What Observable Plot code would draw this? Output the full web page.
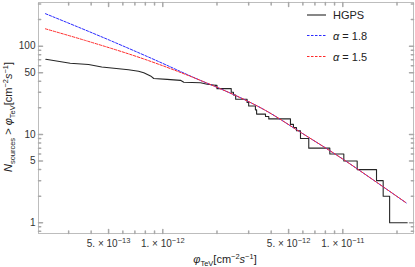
<!DOCTYPE html>
<html><head><meta charset="utf-8">
<script src="https://cdn.jsdelivr.net/npm/d3@7"></script>
<script src="https://cdn.jsdelivr.net/npm/@observablehq/plot@0.6"></script>
<style>
html,body{margin:0;padding:0;background:#fff}
svg{display:block}
</style>
</head><body><div id="chart"></div>
<script>
// ---- data ----
// HGPS cumulative counts, slowly varying low-flux part (drawn as a line)
const hgpsLowFlux = [2.24e-13, 3.06e-13, 3.87e-13, 4.58e-13, 6.45e-13, 7.33e-13, 7.84e-13, 8.55e-13, 8.91e-13, 1.057e-12, 1.254e-12, 1.308e-12, 1.62e-12, 1.765e-12, 1.96e-12];
const hgpsLowN    = [71, 64, 62, 58, 54, 52, 50, 46, 43, 42, 41, 39, 38.5, 37, 36];
// HGPS high-flux part (staircase)
const hgpsStepFlux = [1.96e-12, 2.0e-12, 2.40e-12, 2.47e-12, 2.54e-12, 2.94e-12, 3.00e-12, 3.27e-12, 3.32e-12, 3.72e-12, 3.88e-12, 5.12e-12, 5.32e-12, 5.53e-12, 5.82e-12, 6.47e-12, 8.47e-12, 1.013e-11, 1.202e-11, 1.539e-11, 1.676e-11, 1.82e-11, 2.28e-11];
const hgpsStepN    = [36, 33, 30, 28, 25, 23, 21, 19, 17, 16, 15, 13, 12, 11, 9, 7, 6, 5, 4, 3, 2, 1, 1];
// model curves
const a18Flux = [2.23e-13, 5.10e-13, 9.11e-13, 1.62e-12, 2.092e-12, 3.72e-12, 5.82e-12, 1.013e-11, 1.539e-11, 2.25e-11];
const a18N    = [233, 116, 69.4, 40.9, 32.9, 18.7, 10.6, 5.17, 2.88, 1.68];
const a15Flux = [2.23e-13, 3.71e-13, 8.19e-13, 1.727e-12, 2.092e-12, 3.72e-12, 5.82e-12, 1.013e-11, 1.539e-11, 2.25e-11];
const a15N    = [157, 116, 69.4, 38.8, 32.9, 18.7, 10.6, 5.17, 2.88, 1.68];

// ticks
const xLabelTicks = [5e-13, 1e-12, 5e-12, 1e-11];
const xLabelText  = ["5. × 10^−13", "1. × 10^−12", "5. × 10^−12", "1. × 10^−11"];
const xMinorTicks = [3e-13, 4e-13, 6e-13, 7e-13, 8e-13, 9e-13, 2e-12, 3e-12, 4e-12, 6e-12, 7e-12, 8e-12, 9e-12, 2e-11];
const yLabelTicks = [1, 5, 10, 50, 100];
const yLabelText  = ["1", "5", "10", "50", "100"];
const yMinorTicks = [0.8, 0.9, 2, 3, 4, 6, 7, 8, 9, 20, 30, 40, 60, 70, 80, 90, 200, 300];
const legendLabels = ["HGPS", "α = 1.8", "α = 1.5"];
const seriesColors = ["#262626", "#2b2bff", "#ff2b2b"];

// ---- build ----
const toRows = (xs, ys) => xs.map((x, i) => ({x, y: ys[i]}));
const tickShape = {draw(ctx, l) { ctx.moveTo(0, 0); ctx.lineTo(0, -l); }};
const tickMarks = (ticks, len) => [
  Plot.vector(ticks, {x: d => d, frameAnchor: "bottom", rotate: 0, length: len, anchor: "start", shape: tickShape, stroke: "#a8a8a8"}),
  Plot.vector(ticks, {x: d => d, frameAnchor: "top", rotate: 180, length: len, anchor: "start", shape: tickShape, stroke: "#a8a8a8"})
];
const tickMarksY = (ticks, len) => [
  Plot.vector(ticks, {y: d => d, frameAnchor: "left", rotate: 90, length: len, anchor: "start", shape: tickShape, stroke: "#a8a8a8"}),
  Plot.vector(ticks, {y: d => d, frameAnchor: "right", rotate: -90, length: len, anchor: "start", shape: tickShape, stroke: "#a8a8a8"})
];

const svg = Plot.plot({
  width: 415, height: 267,
  marginLeft: 38, marginRight: 2, marginTop: 2, marginBottom: 34,
  style: {fontFamily: "'Liberation Sans', Arial, sans-serif", fontSize: "10px", background: "#fff", color: "#333"},
  x: {type: "log", domain: [2.04e-13, 2.47e-11], axis: null},
  y: {type: "log", domain: [0.756, 312], axis: null},
  marks: [
    Plot.frame({stroke: "#bdbdbd"}),
    ...tickMarks(xLabelTicks, 4),
    ...tickMarks(xMinorTicks, 2.5),
    ...tickMarksY(yLabelTicks, 4),
    ...tickMarksY(yMinorTicks, 2.2),
    Plot.text(xLabelTicks, {x: d => d, frameAnchor: "bottom", lineAnchor: "top", dy: 6, fontSize: 10, fill: "#333",
      text: d => xLabelText[xLabelTicks.indexOf(d)]}),
    Plot.text(yLabelTicks, {y: d => d, frameAnchor: "left", textAnchor: "end", dx: -3, fontSize: 10, fill: "#333",
      text: d => yLabelText[yLabelTicks.indexOf(d)]}),
    Plot.line(toRows(hgpsLowFlux, hgpsLowN), {x: "x", y: "y", stroke: seriesColors[0], strokeWidth: 1.1}),
    Plot.line(toRows(hgpsStepFlux, hgpsStepN), {x: "x", y: "y", stroke: seriesColors[0], strokeWidth: 1.1, curve: "step-after"}),
    Plot.line(toRows(a18Flux, a18N), {x: "x", y: "y", stroke: seriesColors[1], strokeWidth: 1, strokeDasharray: "2.5,1.5", curve: "monotone-x"}),
    Plot.line(toRows(a15Flux, a15N), {x: "x", y: "y", stroke: seriesColors[2], strokeWidth: 1, strokeDasharray: "2.5,1.5", curve: "monotone-x"})
  ]
});
document.getElementById("chart").appendChild(svg);

// superscripts in x tick labels
const NS = "http://www.w3.org/2000/svg";
Array.from(svg.querySelectorAll("text")).filter(t => t.textContent.includes("^")).forEach(t => {
  const [m, e] = t.textContent.split("^");
  t.textContent = m;
  const sup = document.createElementNS(NS, "tspan");
  sup.setAttribute("dy", "-4");
  sup.setAttribute("font-size", "7.5");
  sup.textContent = e;
  t.appendChild(sup);
});

// rich text helper
function rich(sel, parts, size) {
  let off = 0;
  parts.forEach(([txt, kind]) => {
    const target = kind === "sub" ? 2.8 : kind === "sup" ? -4.2 : 0;
    const ts = sel.append("tspan").attr("dy", target - off).text(txt);
    off = target;
    if (kind === "sub" || kind === "sup") ts.attr("font-size", size * 0.68);
    if (kind === "it") ts.attr("font-style", "italic");
  });
}
const root = d3.select(svg);
const font = "'Liberation Sans', Arial, sans-serif";
// x title
const xt = root.append("text").attr("x", 225).attr("y", 263).attr("text-anchor", "middle")
  .attr("font-family", font).attr("font-size", 11).attr("fill", "#222");
rich(xt, [["φ", "it"], ["TeV", "sub"], ["[cm", ""], ["−2", "sup"], ["s", "it"], ["−1", "sup"], ["]", ""]], 11);
// y title
const yt = root.append("text").attr("transform", "translate(12,117) rotate(-90)").attr("text-anchor", "middle")
  .attr("font-family", font).attr("font-size", 11).attr("fill", "#222");
rich(yt, [["N", "it"], ["sources", "sub"], [" > ", ""], ["φ", "it"], ["TeV", "sub"], ["[cm", ""], ["−2", "sup"], ["s", "it"], ["−1", "sup"], ["]", ""]], 11);

// legend
const legY = [15, 35.5, 56.5];
legendLabels.forEach((lab, i) => {
  root.append("line").attr("x1", 307).attr("x2", 326).attr("y1", legY[i]).attr("y2", legY[i])
    .attr("stroke", seriesColors[i]).attr("stroke-width", i === 0 ? 1.1 : 1)
    .attr("stroke-dasharray", i === 0 ? null : "2.5,1.5");
  const t = root.append("text").attr("x", 333).attr("y", legY[i] + 4).attr("text-anchor", "start")
    .attr("font-family", font).attr("font-size", 11).attr("fill", "#222");
  if (lab.startsWith("α")) rich(t, [["α", "it"], [lab.slice(1), ""]], 11);
  else t.text(lab);
});
</script>
</body></html>
